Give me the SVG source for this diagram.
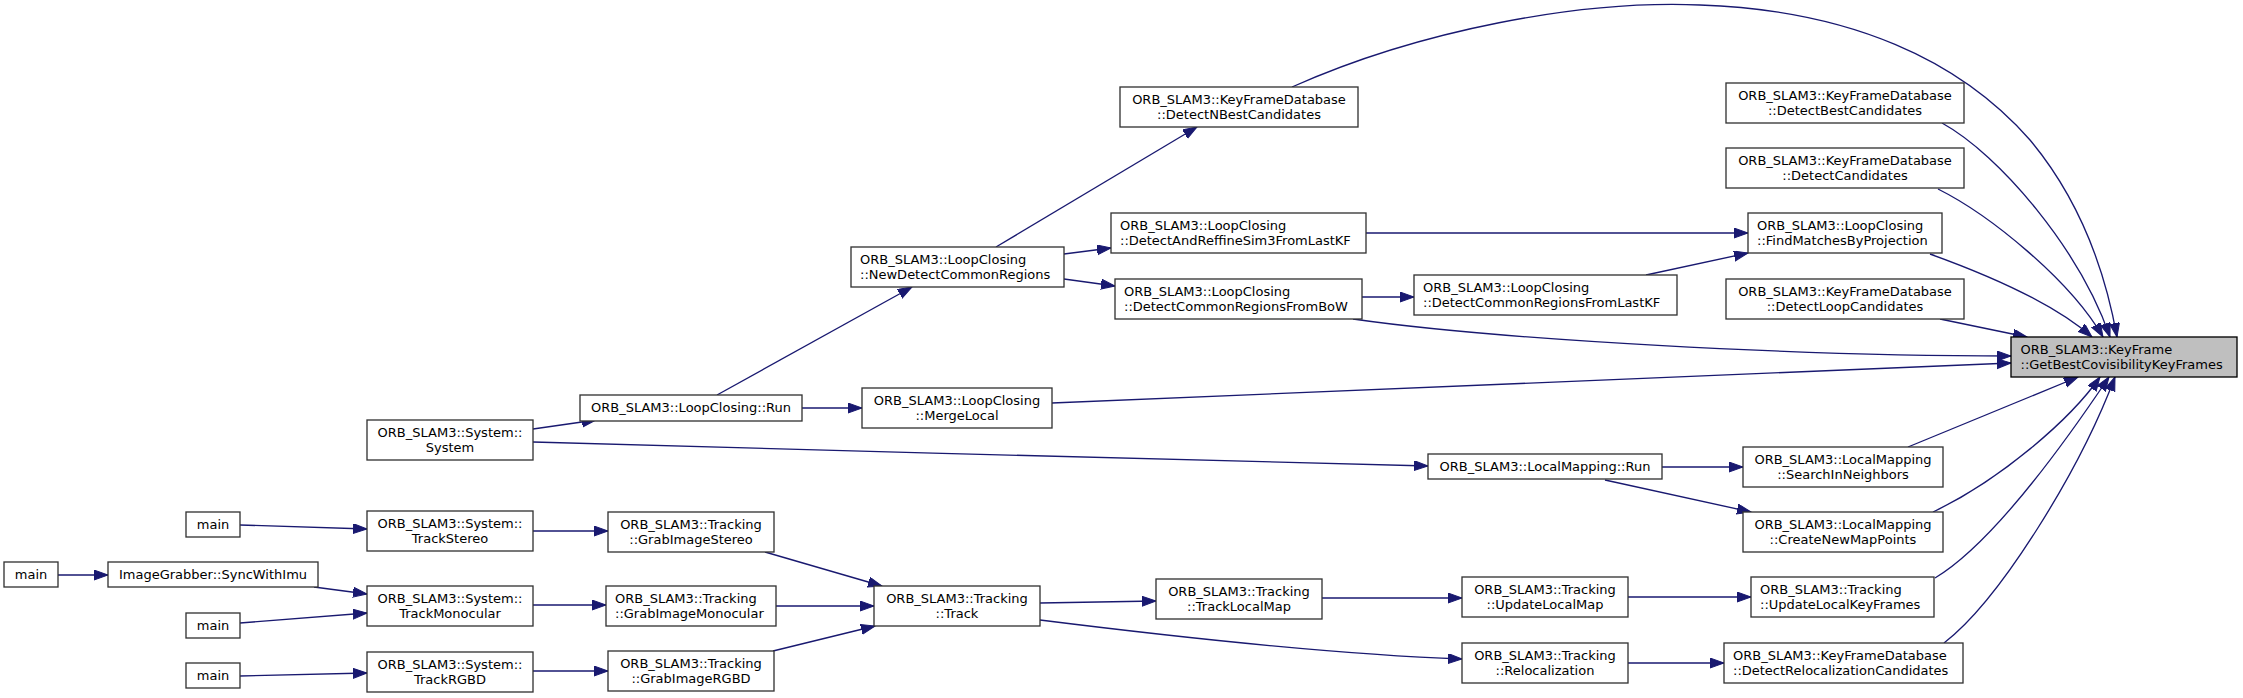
<svg xmlns="http://www.w3.org/2000/svg" width="2243" height="698" viewBox="0 0 2243 698">
<style>
.node rect{fill:#ffffff;stroke:#333333;stroke-width:1.33}
.root rect{fill:#bfbfbf;stroke:#000000;stroke-width:1.33}
text{font-family:"DejaVu Sans","Liberation Sans",sans-serif;font-size:13px;fill:#000000}
.c{text-anchor:middle}
.l{text-anchor:start}
.edges path{fill:none;stroke:#191970;stroke-width:1.33;marker-end:url(#ah)}
</style>
<defs>
<marker id="ah" markerUnits="userSpaceOnUse" markerWidth="16" markerHeight="12" viewBox="0 0 16 12" refX="14" refY="5" orient="auto">
<path d="M0,0 L14,5 L0,10 z" fill="#191970" stroke="#191970" stroke-width="1"/>
</marker>
</defs>
<rect x="0" y="0" width="2243" height="698" fill="#ffffff"/>
<g class="edges" id="edges">
<path d="M58,575 L108,575"/>
<path d="M314,587 L367,594"/>
<path d="M240,525 L367,529"/>
<path d="M240,623 L367,613"/>
<path d="M240,676 L367,673"/>
<path d="M533,531 L608,531"/>
<path d="M533,605 L606,605"/>
<path d="M533,671 L608,671"/>
<path d="M765,552 L882,586"/>
<path d="M776,606 L874,606"/>
<path d="M773,651 L875,626"/>
<path d="M533,429 L596,420"/>
<path d="M533,442 C800,450 1200,460 1428,466"/>
<path d="M717,395 L912,287"/>
<path d="M802,408 L862,408"/>
<path d="M996,247 L1197,127"/>
<path d="M1064,254 L1111,248"/>
<path d="M1064,279 L1115,286"/>
<path d="M1362,297 L1414,297"/>
<path d="M1366,233 L1748,233"/>
<path d="M1646,275 L1748,253"/>
<path d="M1292,87 C1420,30 1580,0 1700,5 C1850,10 1960,60 2030,140 C2080,200 2105,270 2117,337"/>
<path d="M1942,123 C2000,155 2080,250 2110,337"/>
<path d="M1938,189 C1990,215 2070,280 2103,337"/>
<path d="M1930,254 C1980,272 2050,300 2092,337"/>
<path d="M1940,319 L2027,337"/>
<path d="M1353,319 C1500,340 1800,356 2011,356"/>
<path d="M1052,403 L2011,363"/>
<path d="M1908,447 L2078,377"/>
<path d="M1933,512 C2000,480 2070,420 2100,377"/>
<path d="M1935,578 C1990,545 2060,450 2109,377"/>
<path d="M1944,643 C2000,600 2080,470 2115,377"/>
<path d="M1662,467 L1743,467"/>
<path d="M1605,480 L1751,512"/>
<path d="M1040,603 L1156,601"/>
<path d="M1040,620 C1200,640 1350,655 1462,659"/>
<path d="M1322,598 L1462,598"/>
<path d="M1628,597 L1751,597"/>
<path d="M1628,663 L1724,663"/>
</g>
<g class="node" id="main_l"><rect x="4" y="562" width="54" height="25"/><text class="c" x="31" y="579">main</text></g>
<g class="node" id="sync"><rect x="108" y="562" width="210" height="25"/><text class="c" x="213" y="579">ImageGrabber::SyncWithImu</text></g>
<g class="node" id="main_t"><rect x="186" y="512" width="54" height="25"/><text class="c" x="213" y="529">main</text></g>
<g class="node" id="main_m"><rect x="186" y="613" width="54" height="25"/><text class="c" x="213" y="630">main</text></g>
<g class="node" id="main_b"><rect x="186" y="663" width="54" height="25"/><text class="c" x="213" y="680">main</text></g>
<g class="node" id="system"><rect x="367" y="420" width="166" height="40"/><text class="c" x="450" y="437.3">ORB_SLAM3::System::</text><text class="c" x="450" y="451.8">System</text></g>
<g class="node" id="trackStereo"><rect x="367" y="511" width="166" height="40"/><text class="c" x="450" y="528.3">ORB_SLAM3::System::</text><text class="c" x="450" y="542.8">TrackStereo</text></g>
<g class="node" id="trackMono"><rect x="367" y="586" width="166" height="40"/><text class="c" x="450" y="603.3">ORB_SLAM3::System::</text><text class="c" x="450" y="617.8">TrackMonocular</text></g>
<g class="node" id="trackRGBD"><rect x="367" y="652" width="166" height="40"/><text class="c" x="450" y="669.3">ORB_SLAM3::System::</text><text class="c" x="450" y="683.8">TrackRGBD</text></g>
<g class="node" id="lcRun"><rect x="580" y="395" width="222" height="26"/><text class="c" x="691" y="412.3">ORB_SLAM3::LoopClosing::Run</text></g>
<g class="node" id="grabStereo"><rect x="608" y="512" width="166" height="40"/><text class="c" x="691" y="529.3">ORB_SLAM3::Tracking</text><text class="c" x="691" y="543.8">::GrabImageStereo</text></g>
<g class="node" id="grabMono"><rect x="606" y="586" width="170" height="40"/><text class="l" x="615" y="603.3">ORB_SLAM3::Tracking</text><text class="l" x="615" y="617.8">::GrabImageMonocular</text></g>
<g class="node" id="grabRGBD"><rect x="608" y="651" width="166" height="40"/><text class="c" x="691" y="668.3">ORB_SLAM3::Tracking</text><text class="c" x="691" y="682.8">::GrabImageRGBD</text></g>
<g class="node" id="newDetect"><rect x="851" y="247" width="213" height="40"/><text class="l" x="860" y="264.3">ORB_SLAM3::LoopClosing</text><text class="l" x="860" y="278.8">::NewDetectCommonRegions</text></g>
<g class="node" id="mergeLocal"><rect x="862" y="388" width="190" height="40"/><text class="c" x="957" y="405.3">ORB_SLAM3::LoopClosing</text><text class="c" x="957" y="419.8">::MergeLocal</text></g>
<g class="node" id="track"><rect x="874" y="586" width="166" height="40"/><text class="c" x="957" y="603.3">ORB_SLAM3::Tracking</text><text class="c" x="957" y="617.8">::Track</text></g>
<g class="node" id="detectNBest"><rect x="1120" y="87" width="238" height="40"/><text class="c" x="1239" y="104.3">ORB_SLAM3::KeyFrameDatabase</text><text class="c" x="1239" y="118.8">::DetectNBestCandidates</text></g>
<g class="node" id="detectSim3"><rect x="1111" y="213" width="255" height="40"/><text class="l" x="1120" y="230.3">ORB_SLAM3::LoopClosing</text><text class="l" x="1120" y="244.8">::DetectAndReffineSim3FromLastKF</text></g>
<g class="node" id="detectBoW"><rect x="1115" y="279" width="247" height="40"/><text class="l" x="1124" y="296.3">ORB_SLAM3::LoopClosing</text><text class="l" x="1124" y="310.8">::DetectCommonRegionsFromBoW</text></g>
<g class="node" id="lmRun"><rect x="1428" y="454" width="234" height="25"/><text class="c" x="1545" y="471">ORB_SLAM3::LocalMapping::Run</text></g>
<g class="node" id="trackLocalMap"><rect x="1156" y="579" width="166" height="40"/><text class="c" x="1239" y="596.3">ORB_SLAM3::Tracking</text><text class="c" x="1239" y="610.8">::TrackLocalMap</text></g>
<g class="node" id="detectLastKF"><rect x="1414" y="275" width="263" height="40"/><text class="l" x="1423" y="292.3">ORB_SLAM3::LoopClosing</text><text class="l" x="1423" y="306.8">::DetectCommonRegionsFromLastKF</text></g>
<g class="node" id="updateLocalMap"><rect x="1462" y="577" width="166" height="40"/><text class="c" x="1545" y="594.3">ORB_SLAM3::Tracking</text><text class="c" x="1545" y="608.8">::UpdateLocalMap</text></g>
<g class="node" id="reloc"><rect x="1462" y="643" width="166" height="40"/><text class="c" x="1545" y="660.3">ORB_SLAM3::Tracking</text><text class="c" x="1545" y="674.8">::Relocalization</text></g>
<g class="node" id="detectBest"><rect x="1726" y="83" width="238" height="40"/><text class="c" x="1845" y="100.3">ORB_SLAM3::KeyFrameDatabase</text><text class="c" x="1845" y="114.8">::DetectBestCandidates</text></g>
<g class="node" id="detectCand"><rect x="1726" y="148" width="238" height="40"/><text class="c" x="1845" y="165.3">ORB_SLAM3::KeyFrameDatabase</text><text class="c" x="1845" y="179.8">::DetectCandidates</text></g>
<g class="node" id="findMatches"><rect x="1748" y="213" width="194" height="40"/><text class="l" x="1757" y="230.3">ORB_SLAM3::LoopClosing</text><text class="l" x="1757" y="244.8">::FindMatchesByProjection</text></g>
<g class="node" id="detectLoop"><rect x="1726" y="279" width="238" height="40"/><text class="c" x="1845" y="296.3">ORB_SLAM3::KeyFrameDatabase</text><text class="c" x="1845" y="310.8">::DetectLoopCandidates</text></g>
<g class="node" id="searchNeighbors"><rect x="1743" y="447" width="200" height="40"/><text class="c" x="1843" y="464.3">ORB_SLAM3::LocalMapping</text><text class="c" x="1843" y="478.8">::SearchInNeighbors</text></g>
<g class="node" id="createNew"><rect x="1743" y="512" width="200" height="40"/><text class="c" x="1843" y="529.3">ORB_SLAM3::LocalMapping</text><text class="c" x="1843" y="543.8">::CreateNewMapPoints</text></g>
<g class="node" id="updateLocalKF"><rect x="1751" y="577" width="183" height="40"/><text class="l" x="1760" y="594.3">ORB_SLAM3::Tracking</text><text class="l" x="1760" y="608.8">::UpdateLocalKeyFrames</text></g>
<g class="node" id="detectReloc"><rect x="1724" y="643" width="239" height="40"/><text class="l" x="1733" y="660.3">ORB_SLAM3::KeyFrameDatabase</text><text class="l" x="1733" y="674.8">::DetectRelocalizationCandidates</text></g>
<g class="root" id="getBest"><rect x="2011" y="337" width="226" height="40"/><text class="l" x="2020.5" y="354.3">ORB_SLAM3::KeyFrame</text><text class="l" x="2020.5" y="368.8">::GetBestCovisibilityKeyFrames</text></g>
</svg>
